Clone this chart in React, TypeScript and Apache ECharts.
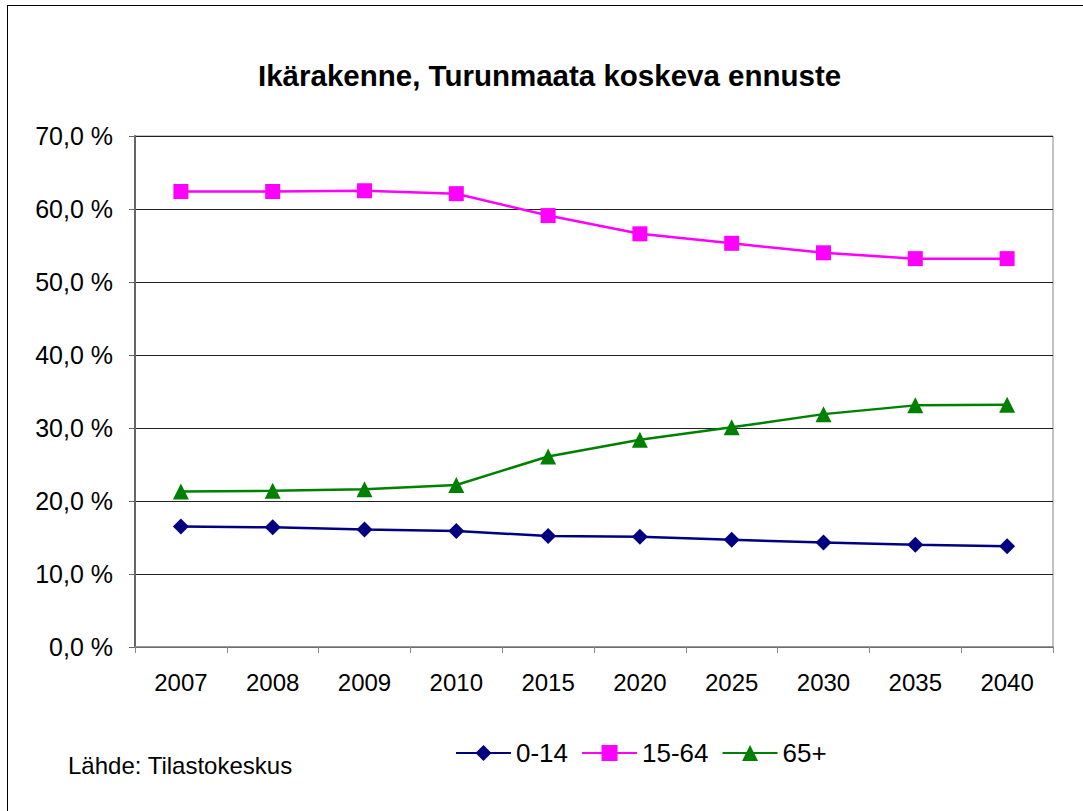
import React, { useEffect, useRef } from "react";
import * as echarts from "echarts";

const years = ["2007", "2008", "2009", "2010", "2015", "2020", "2025", "2030", "2035", "2040"];
const age0_14 = [16.5, 16.4, 16.1, 15.9, 15.2, 15.1, 14.7, 14.3, 14.0, 13.8];
const age15_64 = [62.4, 62.4, 62.5, 62.1, 59.1, 56.6, 55.3, 54.0, 53.2, 53.2];
const age65 = [21.3, 21.4, 21.6, 22.2, 26.1, 28.4, 30.1, 31.9, 33.1, 33.2];

const FONT = "'Liberation Sans', Arial, sans-serif";

export default function App() {
  const ref = useRef<HTMLDivElement>(null);
  useEffect(() => {
    const chart = echarts.init(ref.current!, null, { renderer: "svg" });
    chart.setOption({
      animation: false,
      backgroundColor: "#fff",
      textStyle: { fontFamily: FONT },
      title: {
        text: "Ikärakenne, Turunmaata koskeva ennuste",
        left: 253,
        top: 55,
        textStyle: { fontFamily: FONT, fontSize: 29.5, fontWeight: "bold", color: "#000" },
      },
      grid: { left: 135, top: 136, width: 918, height: 511, show: true, borderColor: "#888", borderWidth: 1, backgroundColor: "transparent" },
      legend: {
        left: 450,
        top: 735,
        itemWidth: 55,
        itemHeight: 20,
        itemGap: 13,
        textStyle: { fontFamily: FONT, fontSize: 26, color: "#000" },
        data: ["0-14", "15-64", "65+"],
      },
      graphic: [
        {
          type: "text",
          left: 68,
          top: 753,
          style: { text: "Lähde: Tilastokeskus", font: `24px ${FONT}`, fill: "#000" },
        },
      ],
      xAxis: {
        type: "category",
        data: years,
        boundaryGap: true,
        axisLine: { lineStyle: { color: "#888", width: 1.5 } },
        axisTick: { show: true, length: 6, lineStyle: { color: "#888" } },
        axisLabel: { color: "#000", fontSize: 24, margin: 23, fontFamily: FONT },
      },
      yAxis: {
        type: "value",
        min: 0,
        max: 70,
        interval: 10,
        axisLine: { show: true, lineStyle: { color: "#666", width: 2 } },
        axisTick: { show: true, length: 6, lineStyle: { color: "#666" } },
        axisLabel: {
          color: "#000",
          fontSize: 25,
          margin: 22,
          fontFamily: FONT,
          formatter: (v: number) => v.toFixed(1).replace(".", ",") + " %",
        },
        splitLine: { show: true, lineStyle: { color: "#222", width: 1 } },
      },
      series: [
        {
          name: "0-14",
          type: "line",
          data: age0_14,
          symbol: "diamond",
          symbolSize: 16,
          color: "#000080",
          lineStyle: { width: 2.5, color: "#000080" },
          itemStyle: { color: "#000080" },
        },
        {
          name: "15-64",
          type: "line",
          data: age15_64,
          symbol: "rect",
          symbolSize: 15,
          color: "#ff00ff",
          lineStyle: { width: 2.5, color: "#ff00ff" },
          itemStyle: { color: "#ff00ff" },
        },
        {
          name: "65+",
          type: "line",
          data: age65,
          symbol: "triangle",
          symbolSize: 16,
          color: "#008000",
          lineStyle: { width: 2.5, color: "#008000" },
          itemStyle: { color: "#008000" },
        },
      ],
    });
    return () => chart.dispose();
  }, []);
  return (
    <div style={{ position: "absolute", left: 0, top: 0, width: 1083, height: 811 }}>
      <div ref={ref} style={{ position: "absolute", left: 0, top: 0, width: 1083, height: 811 }} />
      <div
        style={{
          position: "absolute",
          left: 7,
          top: 5,
          width: 1090,
          height: 820,
          border: "1px solid #000",
          pointerEvents: "none",
        }}
      />
    </div>
  );
}
